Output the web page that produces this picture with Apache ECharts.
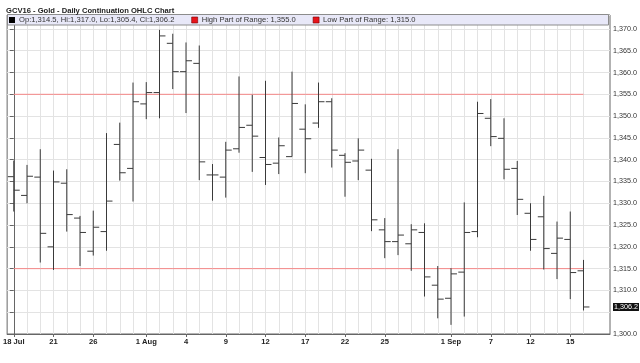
<!DOCTYPE html>
<html><head><meta charset="utf-8">
<script src="https://cdn.jsdelivr.net/npm/echarts@6/dist/echarts.min.js"></script>
<style>html,body{margin:0;padding:0;background:#fff}#c{width:640px;height:363px}</style>
</head><body><div id="c"></div>
<script>
// Trading days (Sep 5 Labor Day: no bar)
const dates = ['Jul 18','Jul 19','Jul 20','Jul 21','Jul 22','Jul 25','Jul 26','Jul 27','Jul 28','Jul 29',
  'Aug 1','Aug 2','Aug 3','Aug 4','Aug 5','Aug 8','Aug 9','Aug 10','Aug 11','Aug 12',
  'Aug 15','Aug 16','Aug 17','Aug 18','Aug 19','Aug 22','Aug 23','Aug 24','Aug 25','Aug 26',
  'Aug 29','Aug 30','Aug 31','Sep 1','Sep 2','Sep 6','Sep 7','Sep 8','Sep 9','Sep 12',
  'Sep 13','Sep 14','Sep 15','Sep 16'];
const opens  = [1336.1,1331.8,1336.0,1320.0,1334.6,1326.6,1319.0,1323.5,1343.5,1338.0,
  1352.8,1355.4,1366.7,1360.2,1362.1,1336.5,1336.0,1342.5,1347.9,1340.5,
  1339.2,1340.7,1347.0,1348.4,1353.3,1341.0,1339.7,1337.6,1323.9,1321.2,
  1320.7,1323.3,1311.2,1308.2,1314.2,1323.5,1349.5,1344.9,1338.0,1327.7,
  1326.9,1318.5,1321.7,1314.5];
const highs  = [1339.8,1338.8,1342.4,1337.5,1337.8,1327.1,1328.3,1346.1,1348.5,1357.7,
  1357.8,1369.8,1368.9,1366.9,1366.2,1339.0,1344.1,1359.1,1354.9,1358.1,
  1345.1,1360.2,1352.7,1357.7,1354.1,1341.5,1344.9,1340.2,1326.6,1342.4,
  1325.2,1325.4,1315.6,1315.1,1330.2,1353.3,1353.9,1349.5,1339.7,1330.0,
  1331.7,1325.8,1328.1,1317.0];
const lows   = [1328.1,1330.0,1316.4,1314.7,1323.5,1315.6,1318.0,1319.1,1335.2,1330.4,
  1349.3,1349.5,1356.2,1350.7,1335.3,1330.6,1331.3,1341.6,1337.2,1334.2,
  1336.7,1340.7,1336.9,1347.3,1338.2,1331.5,1335.3,1323.6,1317.4,1318.1,
  1314.5,1308.6,1303.6,1302.1,1304.0,1322.2,1343.1,1335.5,1327.3,1319.1,
  1314.8,1312.6,1308.0,1305.4];
const closes = [1333.0,1336.2,1323.1,1334.9,1327.4,1323.3,1324.5,1330.5,1337.0,1353.3,
  1355.4,1368.4,1360.2,1362.7,1339.5,1336.5,1342.2,1347.4,1345.4,1338.9,
  1343.2,1352.9,1344.8,1353.3,1342.2,1339.4,1342.2,1326.2,1321.2,1322.7,
  1323.9,1313.1,1308.0,1313.8,1323.3,1350.6,1345.3,1337.8,1330.9,1321.7,
  1319.6,1322.0,1314.1,1306.2];
const rangeHigh = 1355.0;
const rangeLow = 1315.0;
const tickDates = ['Jul 18','Jul 21','Jul 26','Aug 1','Aug 4','Aug 9','Aug 12','Aug 17','Aug 22','Aug 25','Sep 1','Sep 7','Sep 12','Sep 15'];
const tickLabels = ['18 Jul','21','26','1 Aug','4','9','12','17','22','25','1 Sep','7','12','15'];

const fmt = v => v.toLocaleString('en-US', {minimumFractionDigits: 1, maximumFractionDigits: 1});
const last = dates.length - 1;
const tickIdx = tickDates.map(d => dates.indexOf(d));
const labelMap = {};
tickIdx.forEach((ix, k) => { labelMap[ix] = tickLabels[k]; });
const allIdx = dates.map((d, i) => i);

const ohlcName = 'Op:' + fmt(opens[last]) + ', Hi:' + fmt(highs[last]) + ', Lo:' + fmt(lows[last]) + ', Cl:' + fmt(closes[last]);
const hiName = 'High Part of Range: ' + fmt(rangeHigh);
const loName = 'Low Part of Range: ' + fmt(rangeLow);

const ohlcData = dates.map((d, i) => [i, opens[i], highs[i], lows[i], closes[i]]);
const FONT = 'Liberation Sans, Arial, sans-serif';
const BAR = '#3a3a3a';

const chart = echarts.init(document.getElementById('c'), null, {renderer: 'canvas'});
chart.setOption({
  animation: false,
  backgroundColor: '#fff',
  title: {
    text: 'GCV16 - Gold - Daily Continuation OHLC Chart',
    left: 1, top: 2,
    textStyle: {fontFamily: FONT, fontSize: 7.6, fontWeight: 'bold', color: '#222'}
  },
  graphic: [{
    type: 'rect', z: 5,
    shape: {x: 7.5, y: 14.5, width: 601, height: 10.5},
    style: {fill: '#e8e8f8', stroke: '#8c8c8c', lineWidth: 1}
  }],
  legend: {
    z: 10,
    left: 9, top: 16,
    itemWidth: 6, itemHeight: 6, itemGap: 17,
    padding: 0,
    textStyle: {fontFamily: FONT, fontSize: 7.6, color: '#333', padding: [0, 0, 0, -1]},
    selectedMode: false,
    data: [
      {name: ohlcName, icon: 'rect', itemStyle: {color: '#000', borderColor: '#000', borderWidth: 0}},
      {name: hiName, icon: 'rect', itemStyle: {color: '#e8141b', borderColor: '#700', borderWidth: 0.6}, lineStyle: {width: 0}},
      {name: loName, icon: 'rect', itemStyle: {color: '#e8141b', borderColor: '#700', borderWidth: 0.6}, lineStyle: {width: 0}}
    ]
  },
  grid: {left: 7, right: 30, top: 15, bottom: 29, show: true, borderColor: '#666', borderWidth: 1, backgroundColor: '#fff'},
  xAxis: [{
    type: 'value', min: -0.5, max: 45, position: 'bottom',
    axisLine: {show: true, onZero: false, lineStyle: {color: '#666'}},
    axisTick: {show: true, customValues: tickIdx, length: 3, lineStyle: {color: '#666'}},
    axisLabel: {customValues: tickIdx, formatter: v => labelMap[Math.round(v)] || '', fontFamily: FONT, fontSize: 7.6, fontWeight: 'bold', color: '#222', margin: 4},
    splitLine: {show: false}
  }, {
    type: 'value', min: -0.5, max: 45, position: 'bottom',
    axisLine: {show: false},
    axisTick: {show: false, customValues: allIdx},
    axisLabel: {show: false},
    splitLine: {show: true, lineStyle: {color: '#e3e3e3', width: 1}}
  }],
  yAxis: {
    type: 'value', position: 'right', min: 1300, max: 1373.2, interval: 5,
    axisLine: {show: true, lineStyle: {color: '#666'}},
    axisTick: {show: true, inside: true, length: 4, lineStyle: {color: '#666'}},
    axisLabel: {
      showMaxLabel: false,
      // labels hidden where the last-price flag covers them
      formatter: v => (Math.abs(v % 5) > 1e-6 || Math.abs(v - closes[last]) < 2.5 ? '' : fmt(v)),
      fontFamily: FONT, fontSize: 7.2, color: '#333', margin: 3
    },
    splitLine: {show: true, lineStyle: {color: '#e3e3e3', width: 1}}
  },
  series: [{
    name: ohlcName,
    type: 'custom',
    xAxisIndex: 0,
    data: ohlcData,
    encode: {x: 0, y: [1, 2, 3, 4]},
    z: 3,
    itemStyle: {color: '#000'},
    renderItem: function (params, api) {
      const x = api.value(0);
      const o = api.coord([x, api.value(1)]);
      const h = api.coord([x, api.value(2)]);
      const l = api.coord([x, api.value(3)]);
      const c = api.coord([x, api.value(4)]);
      const half = api.size([1, 0])[0] * 0.45;
      const st = {stroke: BAR, lineWidth: 1};
      return {type: 'group', children: [
        {type: 'line', shape: {x1: h[0], y1: h[1], x2: l[0], y2: l[1]}, style: st},
        {type: 'line', shape: {x1: o[0] - half, y1: o[1], x2: o[0], y2: o[1]}, style: st},
        {type: 'line', shape: {x1: c[0], y1: c[1], x2: c[0] + half, y2: c[1]}, style: st}
      ]};
    }
  }, {
    name: hiName, type: 'line', xAxisIndex: 0, silent: true, z: 2,
    symbol: 'none', data: dates.map((d, i) => [i, rangeHigh]),
    lineStyle: {color: '#f58787', width: 1}, itemStyle: {color: '#f58787'}
  }, {
    name: loName, type: 'line', xAxisIndex: 0, silent: true, z: 2,
    symbol: 'none', data: dates.map((d, i) => [i, rangeLow]),
    lineStyle: {color: '#f58787', width: 1}, itemStyle: {color: '#f58787'},
    markLine: {
      silent: true, symbol: 'none', animation: false,
      lineStyle: {color: 'rgba(0,0,0,0)', width: 1, type: 'solid'},
      data: [{yAxis: closes[last]}],
      label: {show: true, position: 'end', distance: 3, formatter: fmt(closes[last]), backgroundColor: '#111', color: '#fff',
        fontFamily: FONT, fontSize: 7.2, padding: [1, 1, 0, 1]}
    }
  }]
});
</script></body></html>
